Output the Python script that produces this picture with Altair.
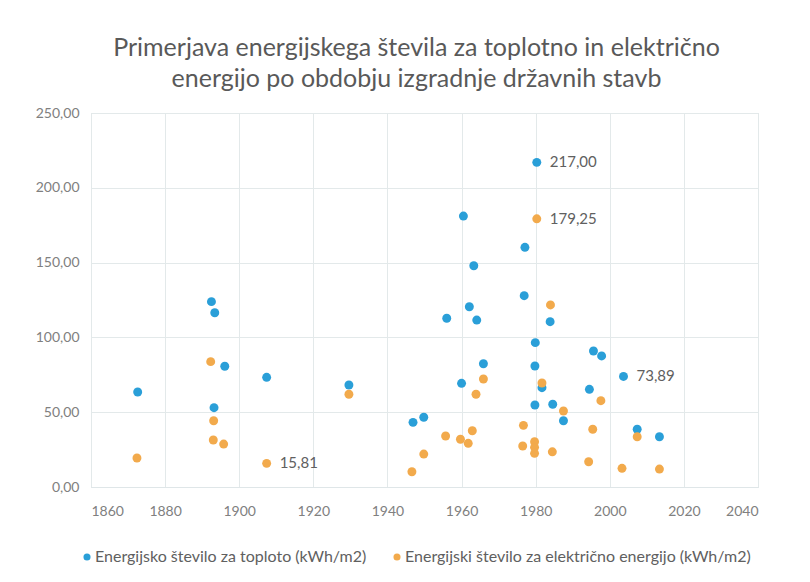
import altair as alt
import pandas as pd

SERIES_HEAT = "Energijsko število za toploto (kWh/m2)"
SERIES_EL = "Energijski število za električno energijo (kWh/m2)"

heat_years = [1872.6, 1892.5, 1893.4, 1896.1, 1907.4, 1893.2, 1929.6, 1946.9, 1949.8,
              1980.3, 1960.5, 1977.1, 1963.3, 1976.9, 1962.1, 1956.0, 1964.1, 1983.9,
              1979.9, 1995.6, 1997.8, 1965.9, 1979.8, 2003.7, 1960.0, 1981.7, 1994.5,
              1979.8, 1984.6, 1987.5, 2007.4, 2013.4]
heat_values = [63.5, 123.9, 116.5, 80.7, 73.3, 53.0, 68.2, 43.2, 46.6,
               217.0, 181.1, 160.2, 147.9, 127.9, 120.5, 112.8, 111.6, 110.5,
               96.5, 90.9, 87.6, 82.4, 80.9, 73.89, 69.3, 66.4, 65.3,
               54.8, 55.3, 44.3, 38.6, 33.6]

el_years = [1892.3, 1929.6, 1893.1, 1893.0, 1895.8, 1872.4, 1907.4, 1949.8, 1946.6,
            1980.3, 1984.0, 1965.9, 1981.7, 1963.9, 1997.6, 1987.5, 1976.7, 1995.4,
            2007.4, 1962.9, 1955.7, 1959.7, 1961.8, 1979.7, 1979.7, 1979.7, 1976.5,
            1984.5, 1994.3, 2003.3, 2013.4]
el_values = [83.8, 62.0, 44.3, 31.4, 28.7, 19.4, 15.81, 22.0, 10.2,
             179.25, 121.7, 72.2, 69.5, 62.0, 57.7, 50.8, 41.2, 38.6,
             33.6, 37.6, 34.1, 31.9, 29.2, 30.3, 26.5, 22.5, 27.4,
             23.5, 16.9, 12.5, 12.0]

label_years = [1980.3, 1980.3, 2003.7, 1907.4]
label_values = [217.0, 179.25, 73.89, 15.81]
label_texts = ["217,00", "179,25", "73,89", "15,81"]

x_ticks = [1860, 1880, 1900, 1920, 1940, 1960, 1980, 2000, 2020, 2040]
y_ticks = [0, 50, 100, 150, 200, 250]

df = pd.concat([
    pd.DataFrame({"leto": heat_years, "vrednost": heat_values, "serija": SERIES_HEAT}),
    pd.DataFrame({"leto": el_years, "vrednost": el_values, "serija": SERIES_EL}),
], ignore_index=True)
lab = pd.DataFrame({"leto": label_years, "vrednost": label_values, "txt": label_texts})

FONT = "Lato"

x = alt.X("leto:Q", scale=alt.Scale(domain=[1860, 2040], nice=False),
          axis=alt.Axis(values=x_ticks, format="d", title=None, grid=True,
                        gridColor="#e3e9ea", ticks=False, domain=True,
                        domainColor="#dfe6e8", labelColor="#808080",
                        labelFontSize=14, labelFont=FONT, labelPadding=17))
y = alt.Y("vrednost:Q", scale=alt.Scale(domain=[0, 250], nice=False),
          axis=alt.Axis(values=y_ticks, title=None, grid=True, gridColor="#e3e9ea",
                        ticks=False, domain=False, labelColor="#808080",
                        labelFontSize=14, labelFont=FONT, labelPadding=12,
                        labelExpr="replace(format(datum.value, '.2f'), '.', ',')"))

points = alt.Chart(df).mark_circle(size=80, opacity=1).encode(
    x=x, y=y,
    color=alt.Color("serija:N",
                    scale=alt.Scale(domain=[SERIES_HEAT, SERIES_EL],
                                    range=["#2a9fd8", "#f2aa4c"]),
                    legend=alt.Legend(title=None, orient="none", direction="horizontal",
                                      legendX=-12, legendY=436, symbolType="circle",
                                      symbolSize=50, labelFontSize=16, labelFont=FONT,
                                      labelColor="#606060", columnPadding=22,
                                      labelOffset=0, labelLimit=0)),
)

labels = alt.Chart(lab).mark_text(align="left", baseline="middle", dx=13,
                                  fontSize=15, font=FONT, color="#606060").encode(
    x="leto:Q", y="vrednost:Q", text="txt:N")

chart = (points + labels).properties(
    width=667, height=374,
    title=alt.TitleParams(
        ["Primerjava energijskega števila za toplotno in električno",
         "energijo po obdobju izgradnje državnih stavb"],
        font=FONT, fontSize=25, fontWeight="normal", color="#595959",
        anchor="middle", offset=14, lineHeight=31, dx=-8),
    autosize=alt.AutoSizeParams(type="none"),
    padding={"left": 83, "top": 105, "right": 40, "bottom": 80},
).configure_view(stroke=None).configure(background="white")

chart.save("out.html", embed_options={"renderer": "svg", "actions": False})
